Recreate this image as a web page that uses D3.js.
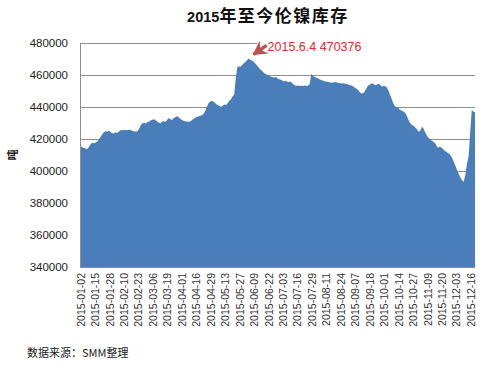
<!DOCTYPE html>
<html>
<head>
<meta charset="utf-8">
<script src="https://cdn.jsdelivr.net/npm/d3@7"></script>
<style>
body { margin: 0; background: #fff; }
svg { display: block; }
</style>
</head>
<body>
<svg></svg>
<script>
// LME trading days, 2015
var dates = [
    "2015-01-02","2015-01-05","2015-01-06","2015-01-07","2015-01-08","2015-01-09","2015-01-12","2015-01-13","2015-01-14","2015-01-15","2015-01-16","2015-01-19","2015-01-20","2015-01-21","2015-01-22","2015-01-23","2015-01-26","2015-01-27","2015-01-28","2015-01-29","2015-01-30",
    "2015-02-02","2015-02-03","2015-02-04","2015-02-05","2015-02-06","2015-02-09","2015-02-10","2015-02-11","2015-02-12","2015-02-13","2015-02-16","2015-02-17","2015-02-18","2015-02-19","2015-02-20","2015-02-23","2015-02-24","2015-02-25","2015-02-26","2015-02-27",
    "2015-03-02","2015-03-03","2015-03-04","2015-03-05","2015-03-06","2015-03-09","2015-03-10","2015-03-11","2015-03-12","2015-03-13","2015-03-16","2015-03-17","2015-03-18","2015-03-19","2015-03-20","2015-03-23","2015-03-24","2015-03-25","2015-03-26","2015-03-27","2015-03-30","2015-03-31",
    "2015-04-01","2015-04-02","2015-04-07","2015-04-08","2015-04-09","2015-04-10","2015-04-13","2015-04-14","2015-04-15","2015-04-16","2015-04-17","2015-04-20","2015-04-21","2015-04-22","2015-04-23","2015-04-24","2015-04-27","2015-04-28","2015-04-29","2015-04-30",
    "2015-05-01","2015-05-05","2015-05-06","2015-05-07","2015-05-08","2015-05-11","2015-05-12","2015-05-13","2015-05-14","2015-05-15","2015-05-18","2015-05-19","2015-05-20","2015-05-21","2015-05-22","2015-05-26","2015-05-27","2015-05-28","2015-05-29",
    "2015-06-01","2015-06-02","2015-06-03","2015-06-04","2015-06-05","2015-06-08","2015-06-09","2015-06-10","2015-06-11","2015-06-12","2015-06-15","2015-06-16","2015-06-17","2015-06-18","2015-06-19","2015-06-22","2015-06-23","2015-06-24","2015-06-25","2015-06-26","2015-06-29","2015-06-30",
    "2015-07-01","2015-07-02","2015-07-03","2015-07-06","2015-07-07","2015-07-08","2015-07-09","2015-07-10","2015-07-13","2015-07-14","2015-07-15","2015-07-16","2015-07-17","2015-07-20","2015-07-21","2015-07-22","2015-07-23","2015-07-24","2015-07-27","2015-07-28","2015-07-29","2015-07-30","2015-07-31",
    "2015-08-03","2015-08-04","2015-08-05","2015-08-06","2015-08-07","2015-08-10","2015-08-11","2015-08-12","2015-08-13","2015-08-14","2015-08-17","2015-08-18","2015-08-19","2015-08-20","2015-08-21","2015-08-24","2015-08-25","2015-08-26","2015-08-27","2015-08-28",
    "2015-09-01","2015-09-02","2015-09-03","2015-09-04","2015-09-07","2015-09-08","2015-09-09","2015-09-10","2015-09-11","2015-09-14","2015-09-15","2015-09-16","2015-09-17","2015-09-18","2015-09-21","2015-09-22","2015-09-23","2015-09-24","2015-09-25","2015-09-28","2015-09-29","2015-09-30",
    "2015-10-01","2015-10-02","2015-10-05","2015-10-06","2015-10-07","2015-10-08","2015-10-09","2015-10-12","2015-10-13","2015-10-14","2015-10-15","2015-10-16","2015-10-19","2015-10-20","2015-10-21","2015-10-22","2015-10-23","2015-10-26","2015-10-27","2015-10-28","2015-10-29","2015-10-30",
    "2015-11-02","2015-11-03","2015-11-04","2015-11-05","2015-11-06","2015-11-09","2015-11-10","2015-11-11","2015-11-12","2015-11-13","2015-11-16","2015-11-17","2015-11-18","2015-11-19","2015-11-20","2015-11-23","2015-11-24","2015-11-25","2015-11-26","2015-11-27","2015-11-30",
    "2015-12-01","2015-12-02","2015-12-03","2015-12-04","2015-12-07","2015-12-08","2015-12-09","2015-12-10","2015-12-11","2015-12-14","2015-12-15","2015-12-16","2015-12-17","2015-12-18","2015-12-21"
];

// nickel stock, tonnes
var stock = [
    414800, 415200, 414600, 414300, 413600, 414200, 415800, 417200, 417600, 417400,
    417900, 418600, 420100, 421600, 423200, 424400, 424900, 424700, 425100, 424300,
    423600, 423400, 424200, 423800, 424600, 425300, 425700, 425400, 425800, 425500,
    425600, 425900, 425300, 425000, 424700, 424500, 425100, 426800, 428900, 429800,
    430100, 429700, 430400, 430900, 431500, 432000, 432300, 431800, 431000, 430300,
    429900, 430700, 431200, 430600, 431500, 432900, 432700, 431900, 432600, 433400,
    434100, 434000, 433100, 432200, 431600, 431200, 430900, 431000, 430800, 431300,
    432100, 432800, 433500, 433900, 434200, 434600, 435000, 435700, 437500, 440200,
    442300, 443500, 443800, 443400, 442600, 441500, 441200, 440400, 440100, 440900,
    441600, 441300, 442500, 443900, 444900, 446500, 447600, 458000, 465000, 465300,
    465100, 466200, 467300, 468100, 469200, 470376, 469600, 469000, 468500, 467400,
    466300, 465000, 463800, 462900, 461800, 461000, 460500, 459900, 459300, 458900,
    458600, 458400, 458700, 457800, 457400, 457000, 456500, 456000, 456400, 455800,
    455600, 455900, 455200, 454000, 453500, 453300, 453400, 453200, 453300, 453100,
    453400, 453200, 453500, 454000, 460600, 459500, 458900, 458400, 458000, 457400,
    457000, 456600, 456200, 455800, 455900, 455500, 455300, 455100, 455400, 455700,
    455300, 455000, 454900, 454700, 454800, 454500, 454300, 454100, 453800, 453400,
    453000, 452200, 451500, 450800, 449700, 448600, 448400, 449200, 450900, 452800,
    453800, 454300, 454900, 454200, 453600, 454100, 454500, 453900, 452700, 453300,
    453000, 452400, 450500, 447800, 445300, 442600, 440600, 440000, 439700, 438500,
    438000, 437400, 436800, 435600, 433400, 431000, 429500, 428600, 428200, 426800,
    425900, 424500, 425300, 427700, 426400, 424100, 422200, 420800, 420200, 419100,
    418300, 417600, 415800, 414500, 415300, 414700, 413900, 412600, 412200, 411300,
    410800, 409400, 407600, 405200, 402800, 400200, 398000, 395600, 394000, 393300,
    397800, 404500, 408900, 424000, 438100, 437200, 436500
];

var yTicks = [340000, 360000, 380000, 400000, 420000, 440000, 460000, 480000];

var tickLabels = [
    "2015-01-02","2015-01-15","2015-01-28","2015-02-10","2015-02-23","2015-03-06","2015-03-19",
    "2015-04-01","2015-04-16","2015-04-29","2015-05-13","2015-05-27","2015-06-09","2015-06-22",
    "2015-07-03","2015-07-16","2015-07-29","2015-08-11","2015-08-24","2015-09-07","2015-09-18",
    "2015-10-01","2015-10-14","2015-10-27","2015-11-09","2015-11-20","2015-12-03","2015-12-16"
];

var peakDate = "2015-06-04", peakValue = 470376;
var peakText = "2015.6.4 470376";

var svgWidth = 500, svgHeight = 366;
var plotLeft = 80, plotRight = 475, plotTop = 43, plotBottom = 267;
var numFont = "'Liberation Sans', Arial, sans-serif";
var cjkFont = "'Noto Sans CJK SC', sans-serif";

var svg = d3.select('svg')
    .attr("width", svgWidth)
    .attr("height", svgHeight);

var x = d3.scalePoint().domain(dates).range([plotLeft, plotRight]);
var y = d3.scaleLinear().domain([340000, 480000]).range([plotBottom, plotTop]);

// gridlines
var grid = svg.append("g")
    .attr("transform", "translate(" + plotLeft + ",0)")
    .call(d3.axisLeft(y).tickValues(yTicks).tickSize(-(plotRight - plotLeft)).tickFormat(""));
grid.select(".domain").remove();
grid.selectAll("line").attr("stroke", "#8e8e8e").attr("stroke-width", 1);

// area
var area = d3.area()
    .x(function(d, i){ return x(dates[i]); })
    .y0(plotBottom)
    .y1(function(d){ return y(d); });

svg.append("path")
    .datum(stock)
    .attr("d", area)
    .attr("fill", "#4a7ebb");

// y axis
var yAxis = svg.append("g")
    .attr("transform", "translate(" + plotLeft + ",0)")
    .call(d3.axisLeft(y).tickValues(yTicks).tickSize(0).tickPadding(12).tickFormat(d3.format("d")));
yAxis.select(".domain").attr("stroke", "#8e8e8e");
yAxis.selectAll("text")
    .attr("fill", "#222")
    .style("font-family", numFont)
    .style("font-size", "11.5px");

svg.append("text")
    .attr("transform", "translate(13,155) rotate(-90)")
    .attr("text-anchor", "middle")
    .attr("dy", "0.35em")
    .style("font-family", cjkFont)
    .style("font-size", "11px")
    .style("font-weight", "bold")
    .attr("fill", "#222")
    .text("吨");

// x labels
svg.selectAll(".xlabel")
    .data(tickLabels)
    .enter()
    .append("text")
    .attr("class", "xlabel")
    .attr("transform", function(d){
        return "translate(" + (x(d) + 1) + "," + (plotBottom + 6) + ") rotate(-90)";
    })
    .attr("text-anchor", "end")
    .attr("dy", "0.35em")
    .style("font-family", numFont)
    .style("font-size", "10.5px")
    .attr("fill", "#333")
    .text(function(d){ return d; });

// title
var title = svg.append("text")
    .attr("x", 268)
    .attr("y", 22)
    .attr("text-anchor", "middle")
    .style("font-weight", "bold")
    .attr("fill", "#111");
title.append("tspan").style("font-family", numFont).style("font-size", "14.5px").text("2015");
title.append("tspan").style("font-family", cjkFont).style("font-size", "17px").style("letter-spacing", "1.5px").text("年至今伦镍库存");

// peak annotation
var tipX = x(peakDate) + 1, tipY = y(peakValue) - 1;
var tailX = tipX + 17, tailY = tipY - 12;

svg.append("rect")
    .attr("x", tailX - 9)
    .attr("y", plotTop - 7)
    .attr("width", plotRight + 5 - (tailX - 9))
    .attr("height", 20)
    .attr("fill", "#fff");

svg.append("defs").append("marker")
    .attr("id", "head")
    .attr("viewBox", "0 -8 14 16")
    .attr("refX", 13)
    .attr("refY", 0)
    .attr("markerWidth", 14)
    .attr("markerHeight", 16)
    .attr("markerUnits", "userSpaceOnUse")
    .attr("orient", "auto")
    .append("path")
    .attr("d", "M0,-8L14,0L0,8L5,0Z")
    .attr("fill", "#c0504d");

svg.append("line")
    .attr("x1", tailX)
    .attr("y1", tailY)
    .attr("x2", tipX + 4)
    .attr("y2", tipY - 3)
    .attr("stroke", "#c0504d")
    .attr("stroke-width", 3.5)
    .attr("marker-end", "url(#head)");

svg.append("text")
    .attr("x", tailX + 1)
    .attr("y", plotTop + 8)
    .style("font-family", numFont)
    .style("font-size", "12.5px")
    .attr("fill", "#e8262e")
    .text(peakText);

// source note
svg.append("text")
    .attr("x", 27)
    .attr("y", 357)
    .style("font-family", cjkFont)
    .style("font-size", "11px")
    .attr("fill", "#222")
    .text("数据来源：SMM整理");
</script>
</body>
</html>
